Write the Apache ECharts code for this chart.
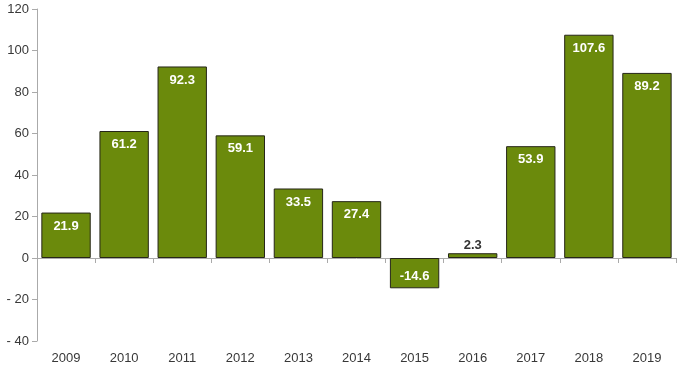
<!DOCTYPE html>
<html><head><meta charset="utf-8">
<script src="https://cdn.jsdelivr.net/npm/echarts@6/dist/echarts.min.js"></script>
<style>html,body{margin:0;padding:0;background:#fff}#c{width:680px;height:367px}</style>
</head><body><div id="c"></div>
<script>
const categories = ['2009','2010','2011','2012','2013','2014','2015','2016','2017','2018','2019'];
const values = [21.9, 61.2, 92.3, 59.1, 33.5, 27.4, -14.6, 2.3, 53.9, 107.6, 89.2];
const yTicks = {min: -40, max: 120, interval: 20};

const chart = echarts.init(document.getElementById('c'));
const data = values.map(v => {
  if (v < 0) return {value: v, label: {position: 'insideTop', distance: 12}};
  if (v < 10) return {value: v, label: {position: 'top', color: '#333', distance: 1}};
  return v;
});
chart.setOption({
  animation: false,
  grid: {left: 37, right: 4, top: 9, bottom: 26},
  xAxis: [{
    type: 'category', data: categories, position: 'bottom',
    axisLine: {show: false, onZero: false}, axisTick: {show: false},
    axisLabel: {color: '#383838', fontSize: 13, fontFamily: 'Liberation Sans, Arial', margin: 11}
  }, {
    type: 'category', data: categories, position: 'bottom',
    axisLine: {show: true, onZero: true, lineStyle: {color: '#aaa', width: 1}},
    axisTick: {show: true, length: 5, lineStyle: {color: '#aaa'}},
    axisLabel: {show: false}
  }],
  yAxis: {
    type: 'value', min: yTicks.min, max: yTicks.max, interval: yTicks.interval,
    splitLine: {show: false},
    axisLine: {show: true, lineStyle: {color: '#aaa'}},
    axisTick: {show: true, length: 5, lineStyle: {color: '#aaa'}},
    axisLabel: {color: '#383838', fontSize: 13, fontFamily: 'Liberation Sans, Arial', margin: 8,
      formatter: v => v < 0 ? '- ' + Math.abs(v) : String(v)}
  },
  series: [{
    type: 'bar', xAxisIndex: 0, data: data, barCategoryGap: '15%',
    itemStyle: {color: '#6b8a0c', borderColor: '#262618', borderWidth: 1},
    label: {show: true, position: 'insideTop', distance: 7, color: '#fff', fontWeight: 'bold',
      fontSize: 13, fontFamily: 'Liberation Sans, Arial'}
  }]
});
</script></body></html>
